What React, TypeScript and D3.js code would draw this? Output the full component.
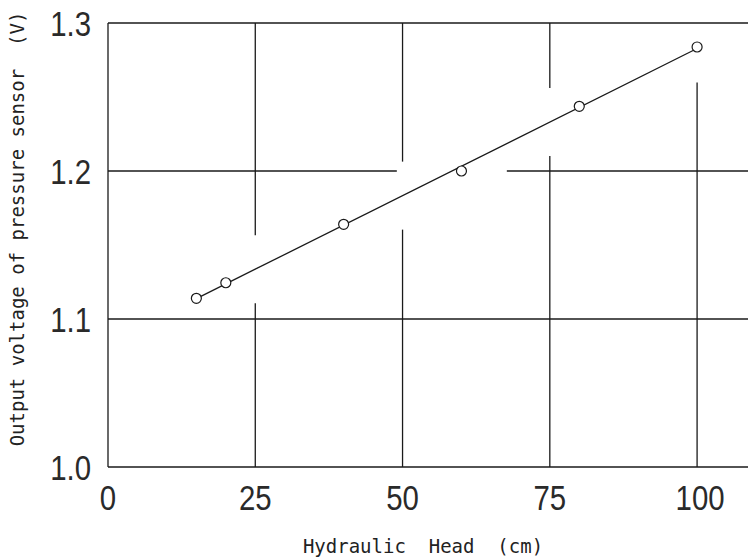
import React from 'react';
import * as d3 from 'd3';

// Measured points: hydraulic head (cm) vs. sensor output (V)
const headCm = [15, 20, 40, 60, 80, 100];
const outputV = [1.114, 1.1245, 1.164, 1.2, 1.2437, 1.2838];

const xTicks = [0, 25, 50, 75, 100];
const yTicks = [1.0, 1.1, 1.2, 1.3];

const xTitle = 'Hydraulic  Head  (cm)';
const yTitle = 'Output voltage of pressure sensor  (V)';

const W = 748;
const H = 557;

// least squares line through the points
const fitLine = () => {
  const mx = d3.mean(headCm) as number;
  const my = d3.mean(outputV) as number;
  const sxy = d3.sum(headCm, (x, i) => (x - mx) * (outputV[i] - my));
  const sxx = d3.sum(headCm, x => (x - mx) * (x - mx));
  const slope = sxy / sxx;
  return (x: number) => my + slope * (x - mx);
};

const App = () => {
  const x = d3.scaleLinear().domain([0, 110]).range([108, 756]);
  const y = d3.scaleLinear().domain([1.0, 1.3]).range([467, 23]);

  const fit = fitLine();
  const [x0, x1] = d3.extent(headCm) as [number, number];
  const fitPts: [number, number][] = [[x0, fit(x0)], [x1, fit(x1)]];
  const inv = (v: number) => x0 + ((v - fit(x0)) / (fit(x1) - fit(x0))) * (x1 - x0);

  const line = d3.line<[number, number]>()
    .x(d => x(d[0]))
    .y(d => y(d[1]));

  const stroke = '#1a1a1a';
  const vGap = 34;
  const hGap = 55;

  // vertical grid lines, broken where the fitted line crosses them
  const vLines = xTicks.flatMap(t => {
    const top = y(1.3), bot = y(1.0), px = x(t);
    if (t >= x0 && t <= x1) {
      const c = y(fit(t));
      return [
        { x1: px, x2: px, y1: top, y2: Math.max(top, c - vGap) },
        { x1: px, x2: px, y1: Math.min(bot, c + vGap), y2: bot },
      ];
    }
    return [{ x1: px, x2: px, y1: top, y2: bot }];
  });

  const hLines = yTicks.flatMap(t => {
    const left = x(0), right = x(110), py = y(t);
    if (t >= fit(x0) && t <= fit(x1)) {
      const c = x(inv(t));
      return [
        { x1: left, x2: c - hGap, y1: py, y2: py },
        { x1: c + hGap, x2: right, y1: py, y2: py },
      ];
    }
    return [{ x1: left, x2: right, y1: py, y2: py }];
  });

  const tickFont = "'Liberation Sans', Arial, sans-serif";
  const titleFont = "'DejaVu Sans Mono', 'Liberation Mono', monospace";
  const narrow = 0.84;

  return (
    <svg width={W} height={H} style={{ position: 'absolute', left: 0, top: 0, background: '#fff' }}>
      <rect width={W} height={H} fill="#fff" />
      <g stroke={stroke} strokeWidth={1.3}>
        {vLines.map((l, i) => <line key={'v' + i} {...l} />)}
        {hLines.map((l, i) => <line key={'h' + i} {...l} />)}
      </g>
      <path d={line(fitPts) || ''} fill="none" stroke={stroke} strokeWidth={1.3} />
      {headCm.map((h, i) => (
        <circle key={h} cx={x(h)} cy={y(outputV[i])} r={5} fill="#fff" stroke={stroke} strokeWidth={1.2} />
      ))}
      <g fontFamily={tickFont} fontSize={35} fill="#2a2a2a">
        {xTicks.map(t => (
          <text key={t} transform={`translate(${x(t) + (t === 100 ? 3 : 0)},510) scale(${narrow},1)`}
            textAnchor="middle">{t}</text>
        ))}
        {yTicks.map(t => (
          <text key={t} transform={`translate(91,${y(t) + 12.5}) scale(${narrow},1)`}
            textAnchor="end">{t.toFixed(1)}</text>
        ))}
      </g>
      <text x={423} y={553} textAnchor="middle" fontFamily={titleFont} fontSize={19} fill="#222"
        style={{ whiteSpace: 'pre' }}>{xTitle}</text>
      <text transform={`translate(24,229) rotate(-90)`} textAnchor="middle" fontFamily={titleFont}
        fontSize={19} fill="#222" style={{ whiteSpace: 'pre' }}>{yTitle}</text>
    </svg>
  );
};

export default App;
